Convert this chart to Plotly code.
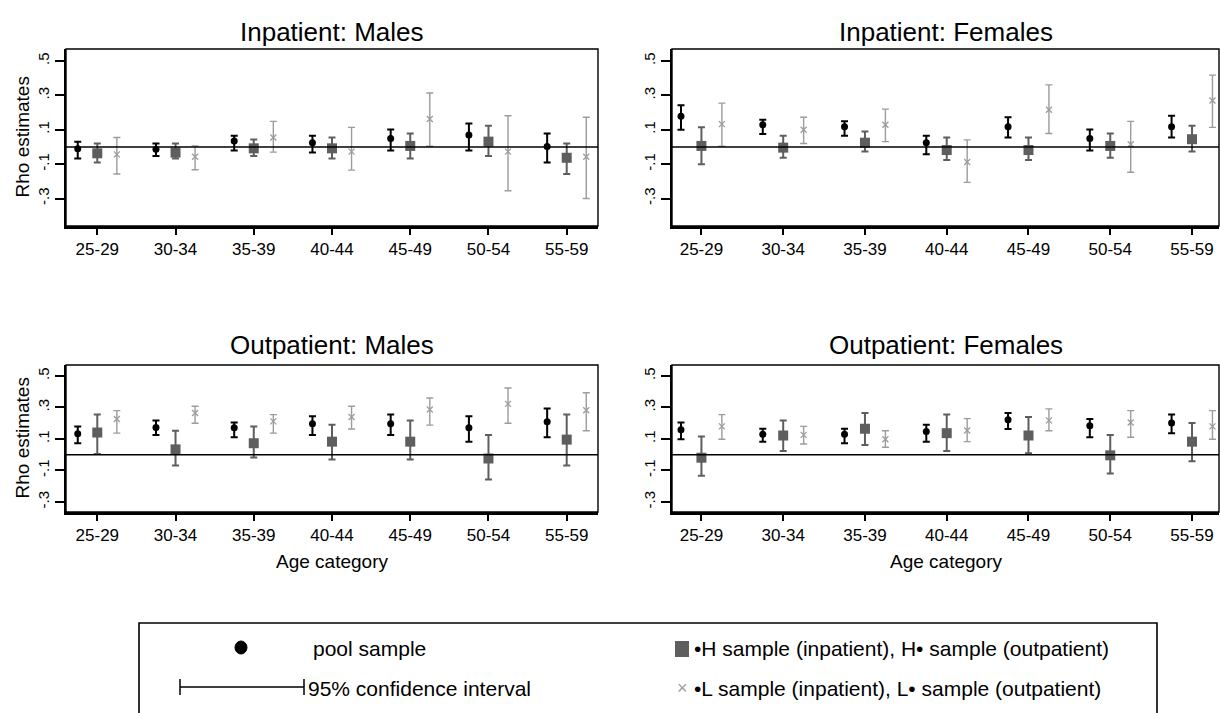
import plotly.graph_objects as go

# ---------------- data ----------------
age_categories = ["25-29", "30-34", "35-39", "40-44", "45-49", "50-54", "55-59"]
panel_titles = ["Inpatient: Males", "Inpatient: Females", "Outpatient: Males", "Outpatient: Females"]
ytick_vals = [-0.3, -0.1, 0.1, 0.3, 0.5]
ytick_text = ["-.3", "-.1", ".1", ".3", ".5"]

# Inpatient: Males
im_pool_est = [-0.010, -0.014, 0.035, 0.025, 0.049, 0.070, 0.002]
im_pool_lo = [-0.067, -0.053, -0.020, -0.033, -0.020, -0.020, -0.090]
im_pool_hi = [0.030, 0.020, 0.065, 0.065, 0.102, 0.137, 0.078]
im_h_est = [-0.037, -0.033, -0.008, -0.008, 0.006, 0.031, -0.063]
im_h_lo = [-0.090, -0.067, -0.053, -0.067, -0.067, -0.053, -0.157]
im_h_hi = [0.020, 0.020, 0.043, 0.055, 0.078, 0.124, 0.020]
im_l_est = [-0.043, -0.057, 0.055, -0.027, 0.163, -0.027, -0.057]
im_l_lo = [-0.157, -0.133, -0.030, -0.135, 0.004, -0.255, -0.300]
im_l_hi = [0.055, 0.006, 0.149, 0.114, 0.314, 0.182, 0.173]

# Inpatient: Females
if_pool_est = [0.178, 0.129, 0.118, 0.025, 0.118, 0.049, 0.118]
if_pool_lo = [0.100, 0.075, 0.065, -0.043, 0.055, -0.020, 0.055]
if_pool_hi = [0.243, 0.159, 0.149, 0.065, 0.173, 0.102, 0.182]
if_h_est = [0.006, -0.004, 0.025, -0.018, -0.018, 0.006, 0.045]
if_h_lo = [-0.100, -0.063, -0.027, -0.076, -0.076, -0.063, -0.027]
if_h_hi = [0.114, 0.065, 0.090, 0.055, 0.055, 0.078, 0.124]
if_l_est = [0.133, 0.100, 0.129, -0.088, 0.216, 0.016, 0.270]
if_l_lo = [0.004, 0.020, 0.031, -0.206, 0.078, -0.147, 0.114]
if_l_hi = [0.255, 0.173, 0.220, 0.041, 0.361, 0.149, 0.418]

# Outpatient: Males
om_pool_est = [0.133, 0.173, 0.171, 0.197, 0.197, 0.171, 0.210]
om_pool_lo = [0.073, 0.126, 0.111, 0.126, 0.126, 0.083, 0.111]
om_pool_hi = [0.180, 0.218, 0.205, 0.244, 0.255, 0.244, 0.293]
om_h_est = [0.141, 0.034, 0.073, 0.083, 0.083, -0.024, 0.096]
om_h_lo = [0.004, -0.068, -0.017, -0.030, -0.030, -0.158, -0.068]
om_h_hi = [0.255, 0.152, 0.180, 0.190, 0.218, 0.126, 0.255]
om_l_est = [0.227, 0.265, 0.212, 0.240, 0.287, 0.323, 0.282]
om_l_lo = [0.137, 0.200, 0.137, 0.163, 0.188, 0.200, 0.152]
om_l_hi = [0.280, 0.308, 0.255, 0.308, 0.360, 0.424, 0.394]

# Outpatient: Females
of_pool_est = [0.158, 0.130, 0.130, 0.148, 0.222, 0.184, 0.201]
of_pool_lo = [0.098, 0.083, 0.073, 0.083, 0.163, 0.111, 0.137]
of_pool_hi = [0.205, 0.165, 0.165, 0.190, 0.265, 0.227, 0.255]
of_h_est = [-0.019, 0.122, 0.165, 0.137, 0.122, -0.004, 0.083]
of_h_lo = [-0.133, 0.024, 0.062, 0.024, 0.009, -0.120, -0.041]
of_h_hi = [0.116, 0.218, 0.265, 0.255, 0.240, 0.126, 0.201]
of_l_est = [0.180, 0.126, 0.098, 0.154, 0.218, 0.205, 0.180]
of_l_lo = [0.098, 0.068, 0.047, 0.083, 0.152, 0.111, 0.098]
of_l_hi = [0.255, 0.180, 0.152, 0.229, 0.291, 0.280, 0.280]

panels = [
    (im_pool_est, im_pool_lo, im_pool_hi, im_h_est, im_h_lo, im_h_hi, im_l_est, im_l_lo, im_l_hi),
    (if_pool_est, if_pool_lo, if_pool_hi, if_h_est, if_h_lo, if_h_hi, if_l_est, if_l_lo, if_l_hi),
    (om_pool_est, om_pool_lo, om_pool_hi, om_h_est, om_h_lo, om_h_hi, om_l_est, om_l_lo, om_l_hi),
    (of_pool_est, of_pool_lo, of_pool_hi, of_h_est, of_h_lo, of_h_hi, of_l_est, of_l_lo, of_l_hi),
]

# ---------------- layout helpers ----------------
W, H = 1220, 713
FONT = "Liberation Sans, Arial, sans-serif"
POOL_C = "#000000"
H_C = "#5e5e5e"
L_C = "#9c9c9c"


def px_x(p):
    return p / W


def px_y(p):
    return 1 - p / H


x_domains = [(66, 598), (672, 1219), (66, 598), (672, 1219)]
y_domains = [(49, 226), (49, 226), (365, 512), (365, 512)]
x_ranges = [[0.6, 7.4], [0.64, 7.33], [0.6, 7.4], [0.64, 7.33]]
y_ranges = [[-0.46, 0.57], [-0.46, 0.57], [-0.364, 0.57], [-0.364, 0.57]]
title_y = [32, 32, 345, 345]

fig = go.Figure()
offset = 0.25
positions = list(range(1, len(age_categories) + 1))

for i, data in enumerate(panels):
    (p_est, p_lo, p_hi, h_est, h_lo, h_hi, l_est, l_lo, l_hi) = data
    xa = "x" if i == 0 else f"x{i+1}"
    ya = "y" if i == 0 else f"y{i+1}"
    series = [
        (p_est, p_lo, p_hi, -offset, POOL_C, dict(symbol="circle", size=7, color=POOL_C), 2.0, 3.5),
        (h_est, h_lo, h_hi, 0.0, H_C, dict(symbol="square", size=10, color=H_C), 2.0, 3.5),
        (l_est, l_lo, l_hi, offset, L_C, dict(symbol="x-thin-open", size=6, color=L_C,
                                              line=dict(color=L_C, width=1.3)), 1.4, 3.5),
    ]
    for est, lo, hi, off, col, mk, thick, capw in series:
        xs = [p + off for p in positions]
        fig.add_trace(go.Scatter(
            x=xs, y=est, mode="markers", xaxis=xa, yaxis=ya,
            marker=mk, showlegend=False, hoverinfo="skip",
            error_y=dict(type="data", symmetric=False,
                         array=[h - e for h, e in zip(hi, est)],
                         arrayminus=[e - l for e, l in zip(est, lo)],
                         color=col, thickness=thick, width=capw),
        ))

layout_axes = {}
for i in range(4):
    xk = "xaxis" if i == 0 else f"xaxis{i+1}"
    yk = "yaxis" if i == 0 else f"yaxis{i+1}"
    ya_name = "y" if i == 0 else f"y{i+1}"
    xa_name = "x" if i == 0 else f"x{i+1}"
    layout_axes[xk] = dict(
        domain=[px_x(x_domains[i][0]), px_x(x_domains[i][1])],
        range=x_ranges[i], anchor=ya_name,
        tickvals=positions, ticktext=age_categories,
        ticks="outside", ticklen=6, tickwidth=1.5, tickcolor="black",
        showline=True, linecolor="black", linewidth=3, mirror=False,
        showgrid=False, zeroline=False,
        tickfont=dict(family=FONT, size=17, color="black"),
        fixedrange=True,
    )
    layout_axes[yk] = dict(
        domain=[px_y(y_domains[i][1]), px_y(y_domains[i][0])],
        range=y_ranges[i], anchor=xa_name,
        tickvals=ytick_vals, ticktext=ytick_text, tickangle=-90,
        ticks="outside", ticklen=9, tickwidth=1.5, tickcolor="black",
        showline=True, linecolor="black", linewidth=1.7, mirror=False,
        showgrid=False, zeroline=False,
        tickfont=dict(family=FONT, size=15, color="black"),
        fixedrange=True,
    )

shapes = []
annotations = []
for i in range(4):
    xa_name = "x" if i == 0 else f"x{i+1}"
    ya_name = "y" if i == 0 else f"y{i+1}"
    # box around plot region
    shapes.append(dict(type="rect", xref=f"{xa_name} domain", yref=f"{ya_name} domain",
                       x0=0, x1=1, y0=0, y1=1, line=dict(color="black", width=1.4)))
    # zero reference line
    shapes.append(dict(type="line", xref=f"{xa_name} domain", yref=ya_name,
                       x0=0, x1=1, y0=0, y1=0, line=dict(color="black", width=1.6)))
    cx = px_x((x_domains[i][0] + x_domains[i][1]) / 2)
    annotations.append(dict(text=panel_titles[i], x=cx, y=px_y(title_y[i]), xref="paper", yref="paper",
                            xanchor="center", yanchor="middle", showarrow=False,
                            font=dict(family=FONT, size=26, color="black")))
    if i in (0, 2):
        cy = px_y((y_domains[i][0] + y_domains[i][1]) / 2)
        annotations.append(dict(text="Rho estimates", x=px_x(22), y=cy, xref="paper", yref="paper",
                                textangle=-90, xanchor="center", yanchor="middle", showarrow=False,
                                font=dict(family=FONT, size=19, color="black")))
    if i in (2, 3):
        annotations.append(dict(text="Age category", x=cx, y=px_y(561), xref="paper", yref="paper",
                                xanchor="center", yanchor="middle", showarrow=False,
                                font=dict(family=FONT, size=19, color="black")))

# ---------------- legend (drawn manually) ----------------
shapes.append(dict(type="rect", xref="paper", yref="paper",
                   x0=px_x(139), x1=px_x(1157), y0=px_y(740), y1=px_y(623),
                   line=dict(color="black", width=1.6)))
# pool marker
shapes.append(dict(type="circle", xref="paper", yref="paper",
                   x0=px_x(235), x1=px_x(247), y0=px_y(654), y1=px_y(641),
                   fillcolor="black", line=dict(color="black", width=1)))
# CI symbol
shapes.append(dict(type="line", xref="paper", yref="paper",
                   x0=px_x(180), x1=px_x(304), y0=px_y(687), y1=px_y(687),
                   line=dict(color="black", width=1.5)))
for xx in (180, 304):
    shapes.append(dict(type="line", xref="paper", yref="paper",
                       x0=px_x(xx), x1=px_x(xx), y0=px_y(679), y1=px_y(695),
                       line=dict(color="black", width=1.5)))
# H square
shapes.append(dict(type="rect", xref="paper", yref="paper",
                   x0=px_x(675), x1=px_x(689), y0=px_y(657), y1=px_y(641),
                   fillcolor=H_C, line=dict(color=H_C, width=0)))
annotations.append(dict(text="×", x=px_x(682), y=px_y(688), xref="paper", yref="paper",
                        xanchor="center", yanchor="middle", showarrow=False,
                        font=dict(family=FONT, size=18, color=L_C)))

legend_texts = [
    ("pool sample", 311, 648),
    ("95% confidence interval", 306, 688),
    ("•H sample (inpatient), H• sample (outpatient)", 692, 648),
    ("•L sample (inpatient), L• sample (outpatient)", 692, 688),
]
for txt, lx, ly in legend_texts:
    annotations.append(dict(text=txt, x=px_x(lx), y=px_y(ly), xref="paper", yref="paper",
                            xanchor="left", yanchor="middle", showarrow=False,
                            font=dict(family=FONT, size=21, color="black")))

fig.update_layout(
    width=W, height=H,
    margin=dict(l=0, r=0, t=0, b=0),
    paper_bgcolor="white", plot_bgcolor="white",
    showlegend=False,
    shapes=shapes, annotations=annotations,
    **layout_axes,
)

fig.write_html("out.html")
